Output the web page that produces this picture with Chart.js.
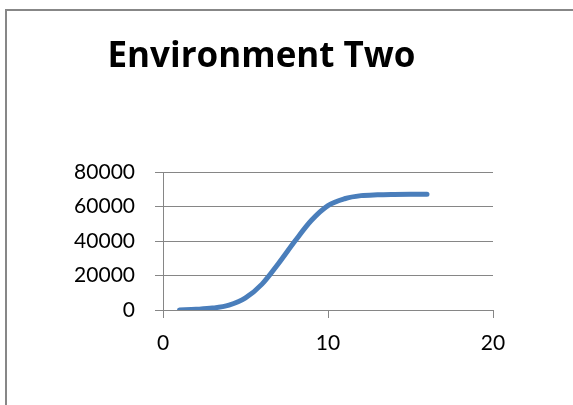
<!DOCTYPE html>
<html>
<head>
<meta charset="utf-8">
<script src="https://cdn.jsdelivr.net/npm/chart.js@4/dist/chart.umd.min.js"></script>
<style>
  html, body { margin: 0; padding: 0; background: #fff; }
  #wrap { width: 573px; height: 405px; position: relative; }
</style>
</head>
<body>
<div id="wrap"><canvas id="envChart" width="573" height="405"></canvas></div>
<script>
// Datos de la serie
const steps = [1, 2, 3, 4, 5, 6, 7, 8, 9, 10, 11, 12, 13, 14, 15, 16];
const population = [0, 400, 1100, 2800, 7000, 15000, 27000, 40000, 52000, 60500, 64500, 66300, 66800, 67000, 67100, 67100];
const chartTitle = 'Environment Two';

const points = steps.map((s, i) => ({ x: s, y: population[i] }));

// marco exterior del grafico
const frame = {
  id: 'frame',
  beforeDraw(chart) {
    const ctx = chart.ctx;
    ctx.save();
    ctx.fillStyle = '#fff';
    ctx.fillRect(0, 0, chart.width, chart.height);
    ctx.strokeStyle = '#878787';
    ctx.lineWidth = 2;
    ctx.strokeRect(6, 10, 700, 500);
    ctx.restore();
  }
};

const tickFont = { family: 'Lato', size: 21 };

const ctx = document.getElementById('envChart').getContext('2d');
const envChart = new Chart(ctx, {
  type: 'line',
  data: {
    datasets: [{
      data: points,
      borderColor: '#4A7EBB',
      borderWidth: 5,
      borderCapStyle: 'round',
      borderJoinStyle: 'round',
      pointRadius: 0,
      cubicInterpolationMode: 'monotone',
      fill: false
    }]
  },
  options: {
    responsive: false,
    animation: false,
    layout: { padding: { left: 30, right: 80, top: 0, bottom: 0 } },
    plugins: {
      legend: { display: false },
      tooltip: { enabled: false },
      title: {
        display: true,
        text: chartTitle,
        color: '#000',
        font: { family: 'Open Sans', size: 35, weight: 'bold', lineHeight: 1.2 },
        padding: { top: 36, bottom: 94 }
      }
    },
    scales: {
      x: {
        type: 'linear',
        min: 0,
        max: 20,
        ticks: { stepSize: 10, color: '#000', padding: 13, font: tickFont,
          callback: v => String(v) },
        grid: { drawOnChartArea: false, drawTicks: true, tickLength: 8, color: '#868686' },
        border: { color: '#868686', width: 1 },
        afterFit(scale) { scale.height = 95; }
      },
      y: {
        min: 0,
        max: 80000,
        ticks: { stepSize: 20000, color: '#000', padding: 20, font: tickFont,
          callback: v => String(v) },
        grid: { color: '#868686', tickLength: 8 },
        border: { color: '#868686', width: 1 },
        afterFit(scale) { scale.width = 133; }
      }
    }
  },
  plugins: [frame]
});
</script>
</body>
</html>
